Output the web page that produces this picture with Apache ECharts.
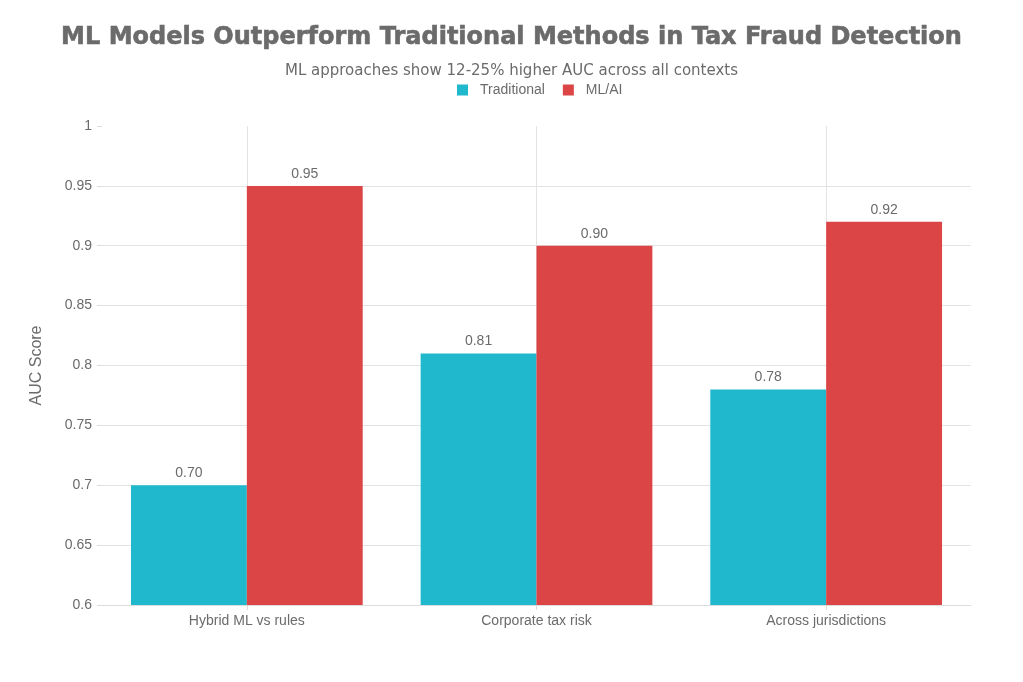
<!DOCTYPE html>
<html>
<head>
<meta charset="utf-8">
<script src="https://cdn.jsdelivr.net/npm/echarts@6/dist/echarts.min.js"></script>
<style>html,body{margin:0;padding:0;background:#fff}#c{width:1023px;height:682px}</style>
</head>
<body>
<div id="c"></div>
<script>
var categories = ['Hybrid ML vs rules', 'Corporate tax risk', 'Across jurisdictions'];
var traditional = [0.70, 0.81, 0.78];
var mlai = [0.95, 0.90, 0.92];
var seriesNames = ['Traditional', 'ML/AI'];
var yTicks = { min: 0.6, max: 1, interval: 0.05 };

var chart = echarts.init(document.getElementById('c'));
var labelFont = 'Liberation Sans, Arial, sans-serif';
chart.setOption({
  animation: false,
  title: [{
    text: 'ML Models Outperform Traditional Methods in Tax Fraud Detection',
    left: 'center', top: 21,
    textStyle: { fontFamily: 'DejaVu Sans', fontWeight: 'bold', fontSize: 24, color: '#6b6b6b',
      textBorderColor: '#6b6b6b', textBorderWidth: 0.6 }
  }, {
    text: 'ML approaches show 12-25% higher AUC across all contexts',
    left: 'center', top: 59,
    textStyle: { fontFamily: 'DejaVu Sans', fontWeight: 'normal', fontSize: 15, color: '#6b6b6b' }
  }],
  legend: {
    data: seriesNames, top: 78, left: 452,
    itemWidth: 11, itemHeight: 11, itemGap: 18,
    icon: 'rect',
    textStyle: { fontFamily: labelFont, fontSize: 14, color: '#6b6b6b', padding: [0, 0, 0, 7] }
  },
  grid: { left: 102, right: 52, top: 126, bottom: 77, containLabel: false },
  xAxis: [{
    type: 'category', data: categories,
    axisLine: { show: true, lineStyle: { color: '#dcdcdc' } },
    axisTick: { show: true, alignWithLabel: true, length: 5, lineStyle: { color: '#dcdcdc' } },
    axisLabel: { fontFamily: labelFont, fontSize: 14, color: '#6b6b6b', margin: 9 },
    splitLine: { show: false }
  }, {
    type: 'category', data: ['0','1','2','3','4','5','6'], boundaryGap: false,
    position: 'bottom', show: true,
    axisLine: { show: false }, axisTick: { show: false }, axisLabel: { show: false },
    splitLine: { show: true, interval: function (i) { return i % 2 === 1; }, lineStyle: { color: '#e3e3e3', width: 1 } }
  }],
  yAxis: {
    type: 'value', min: yTicks.min, max: yTicks.max, interval: yTicks.interval,
    name: 'AUC Score', nameLocation: 'middle', nameGap: 57, nameRotate: 90,
    nameTextStyle: { fontFamily: labelFont, fontSize: 16, color: '#6b6b6b' },
    axisLine: { show: false },
    axisTick: { show: true, length: 5, lineStyle: { color: '#dcdcdc' } },
    axisLabel: { fontFamily: labelFont, fontSize: 14, color: '#6b6b6b', margin: 10 },
    splitLine: { show: true, showMaxLine: false, lineStyle: { color: '#e3e3e3', width: 1 } }
  },
  series: [{
    name: seriesNames[0], type: 'bar', data: traditional, xAxisIndex: 0,
    barGap: '0%', barCategoryGap: '20%',
    itemStyle: { color: '#1FB8CD' },
    label: { show: true, position: 'top', distance: 5, fontFamily: labelFont, fontSize: 14, color: '#6b6b6b',
      formatter: function (p) { return p.value.toFixed(2); } }
  }, {
    name: seriesNames[1], type: 'bar', data: mlai, xAxisIndex: 0,
    barGap: '0%', barCategoryGap: '20%',
    itemStyle: { color: '#DB4545' },
    label: { show: true, position: 'top', distance: 5, fontFamily: labelFont, fontSize: 14, color: '#6b6b6b',
      formatter: function (p) { return p.value.toFixed(2); } }
  }]
});
</script>
</body>
</html>
